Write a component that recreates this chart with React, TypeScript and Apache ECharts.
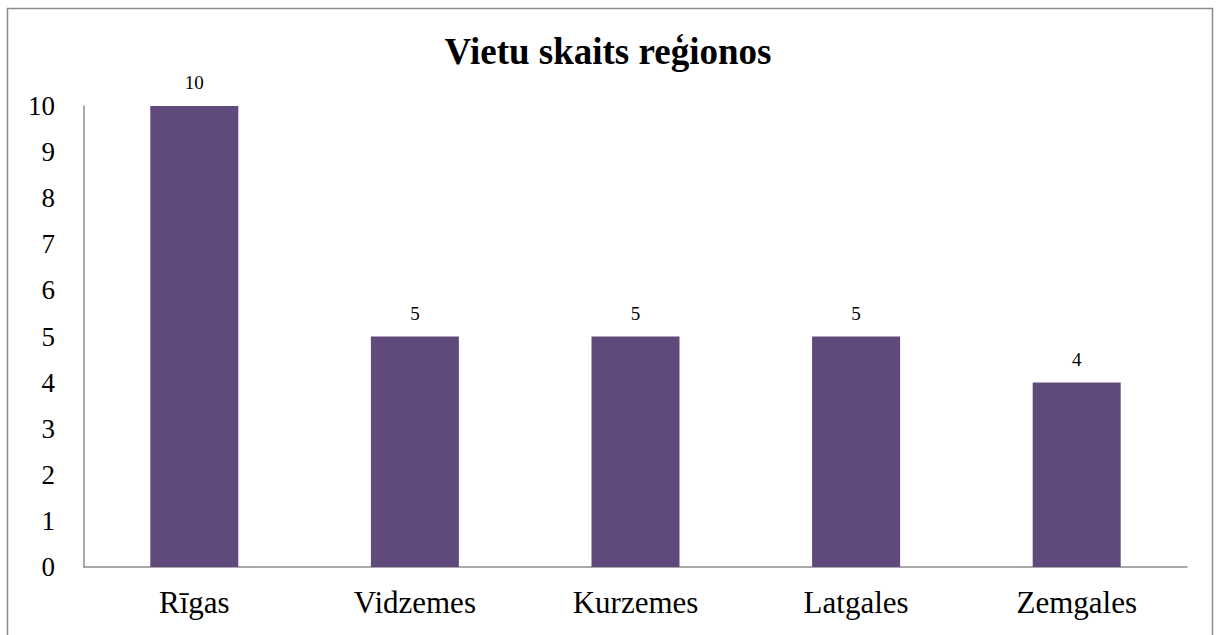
import React, { useEffect, useRef } from "react";
import * as echarts from "echarts";

const categories = ["Rīgas", "Vidzemes", "Kurzemes", "Latgales", "Zemgales"];
const values = [10, 5, 5, 5, 4];
const titleText = "Vietu skaits reģionos";

export default function App() {
  const ref = useRef<HTMLDivElement>(null);
  useEffect(() => {
    document.body.style.margin = "0";
    const chart = echarts.init(ref.current!, null, { renderer: "svg" });
    const font = "'Liberation Serif', 'Times New Roman', serif";
    chart.setOption({
      animation: false,
      backgroundColor: "#ffffff",
      title: {
        text: titleText,
        left: "center",
        top: 28,
        textStyle: { fontFamily: font, fontSize: 37, fontWeight: "bold", color: "#000" },
      },
      graphic: [
        {
          type: "rect",
          shape: { x: 7.5, y: 8.5, width: 1205, height: 640 },
          style: { fill: "none", stroke: "#8c8c8c", lineWidth: 1.5 },
          silent: true,
        },
      ],
      grid: { left: 84, right: 29, top: 106, bottom: 68 },
      xAxis: {
        type: "category",
        data: categories,
        axisLine: { lineStyle: { color: "#8c8c8c", width: 1.5 } },
        axisTick: { show: false },
        axisLabel: { fontFamily: font, fontSize: 31, color: "#000", margin: 20 },
      },
      yAxis: {
        type: "value",
        min: 0,
        max: 10,
        interval: 1,
        splitLine: { show: false },
        axisLine: { show: true, lineStyle: { color: "#8c8c8c", width: 1.5 } },
        axisTick: { show: false },
        axisLabel: { fontFamily: font, fontSize: 27, color: "#000", margin: 29 },
      },
      series: [
        {
          type: "bar",
          data: values,
          barWidth: 88,
          itemStyle: { color: "#604a7b" },
          label: {
            show: true,
            position: "top",
            distance: 14,
            fontFamily: font,
            fontSize: 19,
            color: "#000",
          },
        },
      ],
    });
    return () => chart.dispose();
  }, []);
  return <div ref={ref} style={{ width: 1216, height: 635 }} />;
}
